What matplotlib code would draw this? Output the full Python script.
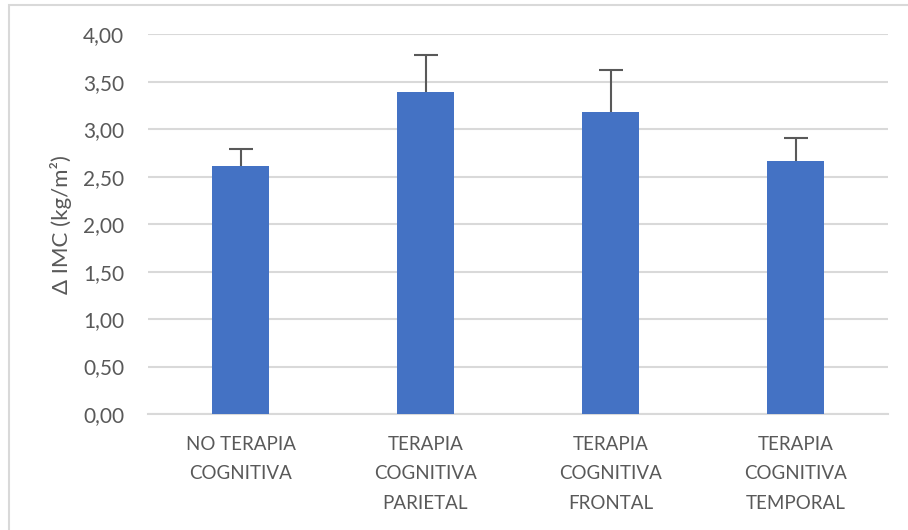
import matplotlib
matplotlib.use("Agg")
import matplotlib.pyplot as plt
from matplotlib.patches import Rectangle

categories = ["NO TERAPIA\nCOGNITIVA",
              "TERAPIA\nCOGNITIVA\nPARIETAL",
              "TERAPIA\nCOGNITIVA\nFRONTAL",
              "TERAPIA\nCOGNITIVA\nTEMPORAL"]
values = [2.61, 3.39, 3.18, 2.66]
errors = [0.18, 0.39, 0.44, 0.25]
yticks = [0.0, 0.5, 1.0, 1.5, 2.0, 2.5, 3.0, 3.5, 4.0]
ylabel = "Δ IMC (kg/m²)"

plt.rcParams['font.family'] = ['Lato', 'DejaVu Sans']
text_color = "#595959"
grid_color = "#d9d9d9"

fig = plt.figure(figsize=(9.08, 5.30), dpi=100)
# chart-area frame (runs past the right and bottom edges)
fig.patches.append(Rectangle((9 / 908, -0.1), 1.2, (530 - 5) / 530 + 0.1,
                             transform=fig.transFigure, fill=False,
                             edgecolor=grid_color, linewidth=1.5))

ax = fig.add_axes([148 / 908, (530 - 414) / 530, 740 / 908, 379.7 / 530])
x = list(range(len(categories)))
# bars sit above the error bars so only the upper whisker shows
ax.bar(x, values, width=0.31, color="#4472C4", zorder=4)
ax.errorbar(x, values, yerr=errors, fmt="none",
            ecolor="#595959", elinewidth=1.5, capsize=8.5, capthick=1.5, zorder=3)

ax.set_xlim(-0.5, len(categories) - 0.5)
ax.set_ylim(0, 4)
ax.set_yticks(yticks)
ax.set_yticklabels([f"{v:.2f}".replace(".", ",") for v in yticks], fontsize=15)
ax.set_xticks(x)
ax.set_xticklabels(categories, linespacing=1.9, va="top", fontsize=13.5)
ax.tick_params(axis="both", length=0, colors=text_color)
ax.tick_params(axis="y", pad=17)
ax.tick_params(axis="x", pad=15.5)
ax.yaxis.grid(True, color=grid_color, linewidth=1.5, zorder=0)
for side in ["left", "right", "top"]:
    ax.spines[side].set_visible(False)
ax.spines["bottom"].set_color(grid_color)
ax.spines["bottom"].set_linewidth(1.5)
ax.set_ylabel(ylabel, fontsize=16, color=text_color, labelpad=8)

fig.savefig("out.png", dpi=100)
